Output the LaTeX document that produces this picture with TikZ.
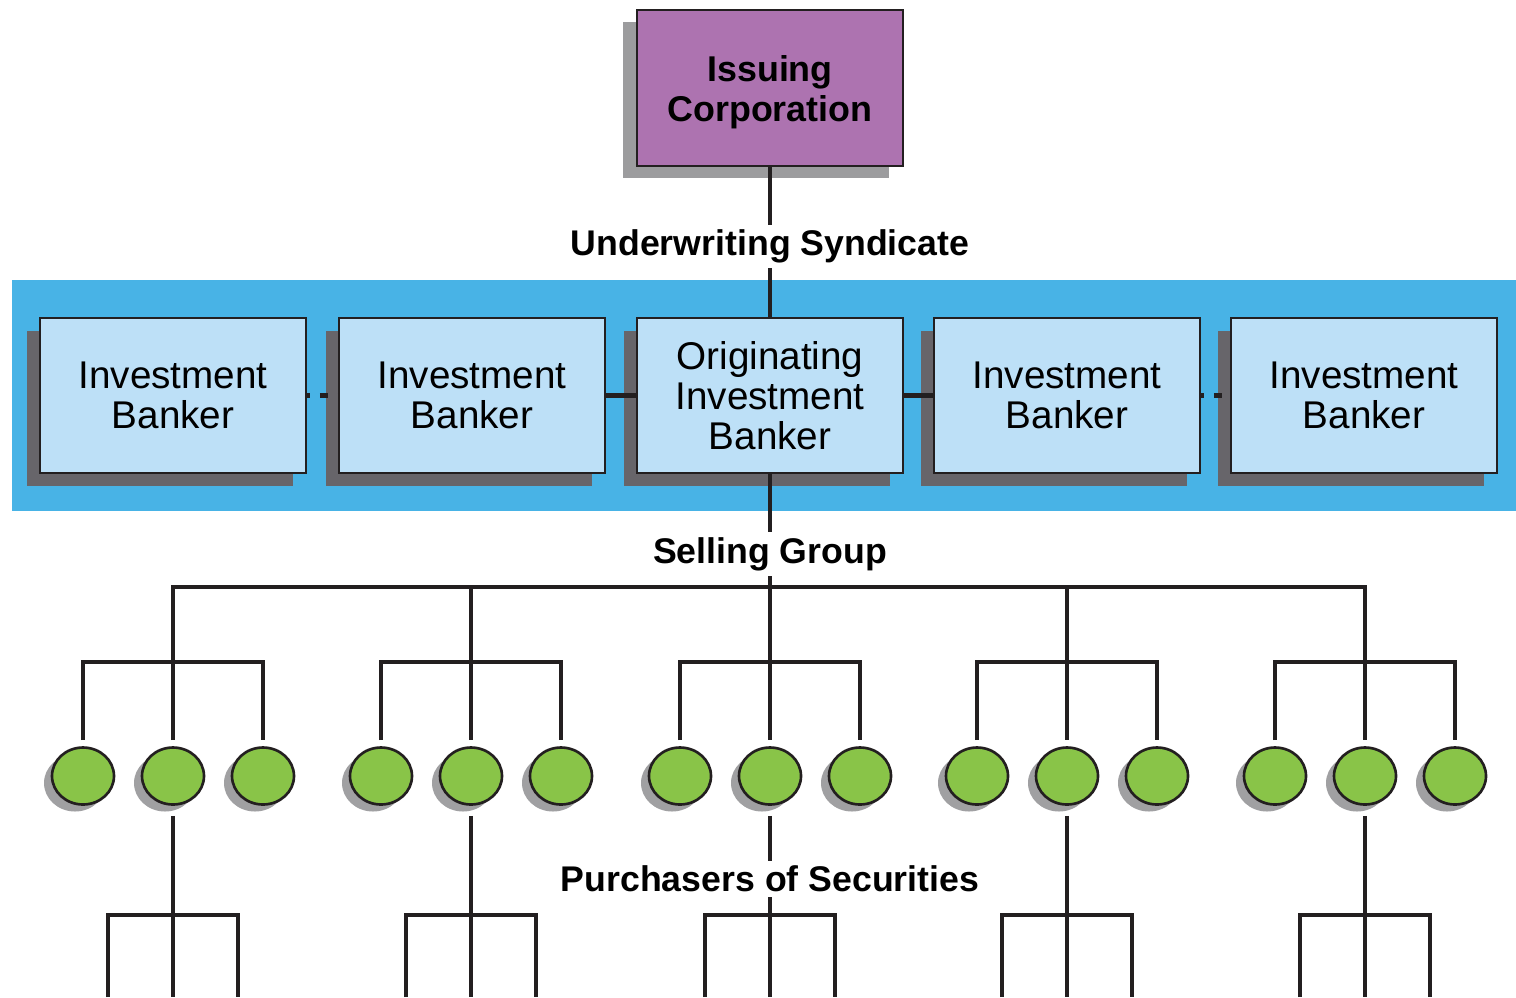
\documentclass[tikz,border=0pt]{standalone}
\usepackage{fontspec}
\setmainfont{Liberation Sans}
\usetikzlibrary{positioning,shadows,calc,shapes.geometric}

\definecolor{inkline}{RGB}{35,31,32}
\definecolor{issuerpurple}{RGB}{173,115,176}
\definecolor{issuershade}{RGB}{156,156,158}
\definecolor{bandblue}{RGB}{72,179,230}
\definecolor{bankblue}{RGB}{189,224,247}
\definecolor{bankshade}{RGB}{103,101,106}
\definecolor{buyergreen}{RGB}{137,196,72}
\definecolor{buyershade}{RGB}{160,160,162}

\begin{document}
\begin{tikzpicture}[
    issuer/.style={draw=inkline, line width=1.1pt, fill=issuerpurple, minimum width=5.32cm, minimum height=3.12cm, inner sep=0pt, align=center, font=\fontsize{20.4}{22.7}\selectfont\bfseries,
        drop shadow={shadow xshift=-0.28cm, shadow yshift=-0.24cm, fill=issuershade, opacity=1}},
    bank/.style={draw=inkline, line width=1.1pt, fill=bankblue, minimum width=5.32cm, minimum height=3.1cm, inner sep=0pt, align=center, font=\fontsize{22}{22.7}\selectfont,
        drop shadow={shadow xshift=-0.26cm, shadow yshift=-0.26cm, fill=bankshade, opacity=1}},
    buyer/.style={ellipse, draw=inkline, line width=1.5pt, fill=buyergreen, minimum width=1.24cm, minimum height=1.14cm, inner sep=0pt,
        drop shadow={shadow xshift=-0.16cm, shadow yshift=-0.14cm, fill=buyershade, opacity=1}},
    link/.style={draw=inkline, line width=2.3pt},
    dotlink/.style={link, dash pattern=on 1.7pt off 5.7pt on 4.5pt off 5.7pt},
    grouplabel/.style={fill=white, inner sep=3pt, font=\fontsize{20.3}{24}\selectfont\bfseries}
]
\useasboundingbox (0,0) rectangle (30.32,-19.94);

% syndicate band
\fill[bandblue] (0.24,-5.6) rectangle (30.32,-10.22);

\coordinate (sellbar) at (15.4,-11.74);
\coordinate (subbar) at (0,-13.24);
\coordinate (lowbar) at (0,-18.3);
\coordinate (bottom) at (0,-19.94);

\node[issuer] (issuer) at (15.4,-1.76) {\rule{0pt}{19.5pt}Issuing\\Corporation};

\node[bank] (bank1) at (3.46,-7.91) {Investment\\Banker};
\node[bank] (bank2) at (9.44,-7.91) {Investment\\Banker};
\node[bank] (orig)  at (15.4,-7.91) {Originating\\Investment\\Banker};
\node[bank] (bank4) at (21.34,-7.91) {Investment\\Banker};
\node[bank] (bank5) at (27.28,-7.91) {Investment\\Banker};

\draw[dotlink] (bank1) -- (bank2);
\draw[link] (bank2) -- (orig);
\draw[link] (orig) -- (bank4);
\draw[dotlink] (bank4) -- (bank5);

\draw[link] (issuer) -- node[grouplabel, pos=0.5, yshift=-0.09cm] {Underwriting Syndicate} (orig);

% selling group: three buyers under each banker
\foreach \g/\x in {1/3.46,2/9.42,3/15.4,4/21.34,5/27.3}{
  \node[buyer] (c\g1) at (\x-1.8,-15.52) {};
  \node[buyer] (c\g2) at (\x,-15.52) {};
  \node[buyer] (c\g3) at (\x+1.8,-15.52) {};
}

\draw[link, shorten >=0.12cm] (orig) -- (c32);
\draw[link, shorten <=0.12cm, shorten >=0.12cm] (c12) |- (sellbar) -| (c52);
\foreach \g in {1,2,4,5}
  \draw[link, shorten >=0.12cm] (c\g2 |- sellbar) -- (c\g2);

\foreach \g in {1,...,5}{
  \draw[link, shorten <=0.12cm, shorten >=0.12cm] (c\g1) |- (c\g2 |- subbar) -| (c\g3);
  \draw[link, shorten <=0.2cm] (c\g2) -- (c\g2 |- bottom);
  \draw[link] ($(c\g2 |- bottom)+(-1.3,0)$) |- ($(c\g2 |- lowbar)+(1.3,0)$) -- ($(c\g2 |- bottom)+(1.3,0)$);
}

\node[grouplabel] (selling) at (15.4,-11.08) {Selling Group};
\node[grouplabel] (buyers) at (15.4,-17.58) {Purchasers of Securities};
\end{tikzpicture}
\end{document}
